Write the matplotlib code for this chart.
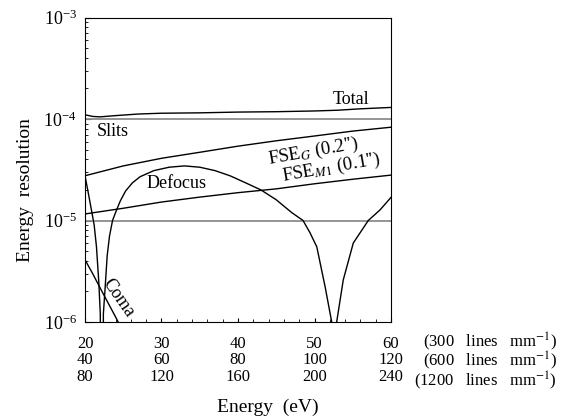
import numpy as np
import matplotlib
matplotlib.use('Agg')
import matplotlib.pyplot as plt
from matplotlib.ticker import LogLocator, MultipleLocator, NullFormatter

plt.rcParams['font.family'] = ['Liberation Serif', 'DejaVu Serif']
plt.rcParams['mathtext.fontset'] = 'stix'

# 读取的数据 (eV, 300 lines/mm grating)
slits_level = 1e-4
ref_level = 1e-5

total_x = [20, 21, 22, 24, 27, 30, 35, 40, 45, 50, 53, 56, 60]
total_y = [1.10e-4, 1.06e-4, 1.05e-4, 1.08e-4, 1.12e-4, 1.14e-4, 1.15e-4,
           1.17e-4, 1.18e-4, 1.20e-4, 1.22e-4, 1.26e-4, 1.30e-4]

fse_g_x = [20, 25, 30, 35, 40, 45, 50, 55, 60]
fse_g_y = [2.76e-5, 3.45e-5, 4.1e-5, 4.7e-5, 5.4e-5, 6.1e-5, 6.8e-5, 7.6e-5, 8.3e-5]

fse_m1_x = [20, 25, 30, 35, 40, 45, 50, 55, 60]
fse_m1_y = [1.16e-5, 1.32e-5, 1.52e-5, 1.7e-5, 1.88e-5, 2.05e-5, 2.3e-5, 2.55e-5, 2.8e-5]

defocus_x = [20.0, 20.5, 20.9, 21.2, 21.5, 21.8, 22.0, 22.2, 22.4, 22.6, 22.9,
             23.2, 23.6, 24.0, 24.6, 25.3, 26.2, 27.2, 29, 31, 33, 35, 37, 39,
             41, 43, 45, 47, 48.5, 49.4, 50.3, 51.4, 52.25, 52.6, 52.9, 53.76,
             55.07, 57.03, 58.56, 60]
defocus_y = [2.76e-5, 1.75e-5, 1.2e-5, 9e-6, 5.5e-6, 2.5e-6, 1.2e-6, 0, 1.2e-6,
             2e-6, 4.5e-6, 7e-6, 1e-5, 1.2e-5, 1.55e-5, 1.95e-5, 2.35e-5, 2.7e-5,
             3.1e-5, 3.35e-5, 3.45e-5, 3.35e-5, 3.1e-5, 2.75e-5, 2.35e-5, 2.0e-5,
             1.6e-5, 1.2e-5, 1.0e-5, 7.6e-6, 5.5e-6, 2.2e-6, 1e-6, 0, 1e-6,
             2.6e-6, 6e-6, 1.0e-5, 1.27e-5, 1.69e-5]

coma_x = [20, 21, 22, 23, 24, 25, 26]
coma_y = [4.1e-6, 3.0e-6, 2.15e-6, 1.55e-6, 1.12e-6, 8e-7, 5.8e-7]

xticks = [20, 30, 40, 50, 60]
row2 = [40, 60, 80, 100, 120]
row3 = [80, 120, 160, 200, 240]
gratings = ['(300   lines   mm$^{-1}$)', '(600   lines   mm$^{-1}$)', '(1200   lines   mm$^{-1}$)']

W, H = 568, 417
fig = plt.figure(figsize=(W / 100, H / 100), dpi=100)
ax = fig.add_axes([85 / W, 1 - 322 / H, (391 - 85) / W, (322 - 17.5) / H])

gray = '#8c8c8c'
ax.axhline(slits_level, color=gray, lw=1.3)
ax.axhline(ref_level, color=gray, lw=1.3)
ax.plot(total_x, total_y, color='black', lw=1.0)
ax.plot(fse_g_x, fse_g_y, color='black', lw=1.0)
ax.plot(fse_m1_x, fse_m1_y, color='black', lw=1.0)
ax.plot(defocus_x, defocus_y, color='black', lw=1.0)
ax.plot(coma_x, coma_y, color='black', lw=1.0)

ax.set_yscale('log', nonpositive='clip')
ax.set_xlim(20, 60)
ax.set_ylim(1e-6, 1e-3)

ax.yaxis.set_major_locator(LogLocator(base=10, numticks=10))
ax.yaxis.set_minor_locator(LogLocator(base=10, subs=np.arange(2, 10), numticks=10))
ax.yaxis.set_minor_formatter(NullFormatter())
ax.xaxis.set_minor_locator(MultipleLocator(2))
ax.tick_params(axis='y', which='major', direction='in', length=4, labelsize=13, pad=6)
ax.tick_params(axis='y', which='minor', direction='in', length=2)
ax.tick_params(axis='x', which='major', direction='in', length=3, labelsize=12, pad=10)
ax.tick_params(axis='x', which='minor', direction='in', length=2)

ax.set_xticks(xticks)
ax.set_xticklabels(['%d\n%d\n%d' % (a, b, c) for a, b, c in zip(xticks, row2, row3)],
                   linespacing=1.05)

fig.text(557 / W, 1 - 361 / H, '\n'.join(gratings), ha='right', va='center',
         multialignment='right', fontsize=12, linespacing=0.82)

fig.text(268 / W, 1 - 407 / H, 'Energy  (eV)', ha='center', va='center', fontsize=14)
fig.text(25 / W, 1 - 190 / H, 'Energy  resolution', ha='center', va='center',
         rotation=90, fontsize=14)

# 曲线标注
ax.text(54.8, 1.55e-4, 'Total', fontsize=13, ha='center', va='center')
ax.text(23.6, 7.45e-5, 'Slits', fontsize=13, ha='center', va='center')
ax.text(32.0, 2.3e-5, 'Defocus', fontsize=13, ha='center', va='center')
ax.text(49.8, 4.75e-5, "FSE$_G$ (0.2'')", fontsize=13.5, ha='center', va='center', rotation=10)
ax.text(52.2, 3.3e-5, "FSE$_{M1}$ (0.1'')", fontsize=13.5, ha='center', va='center', rotation=10)
ax.text(24.3, 1.73e-6, 'Coma', fontsize=13, ha='center', va='center', rotation=-55)

fig.savefig('out.png', dpi=100)
